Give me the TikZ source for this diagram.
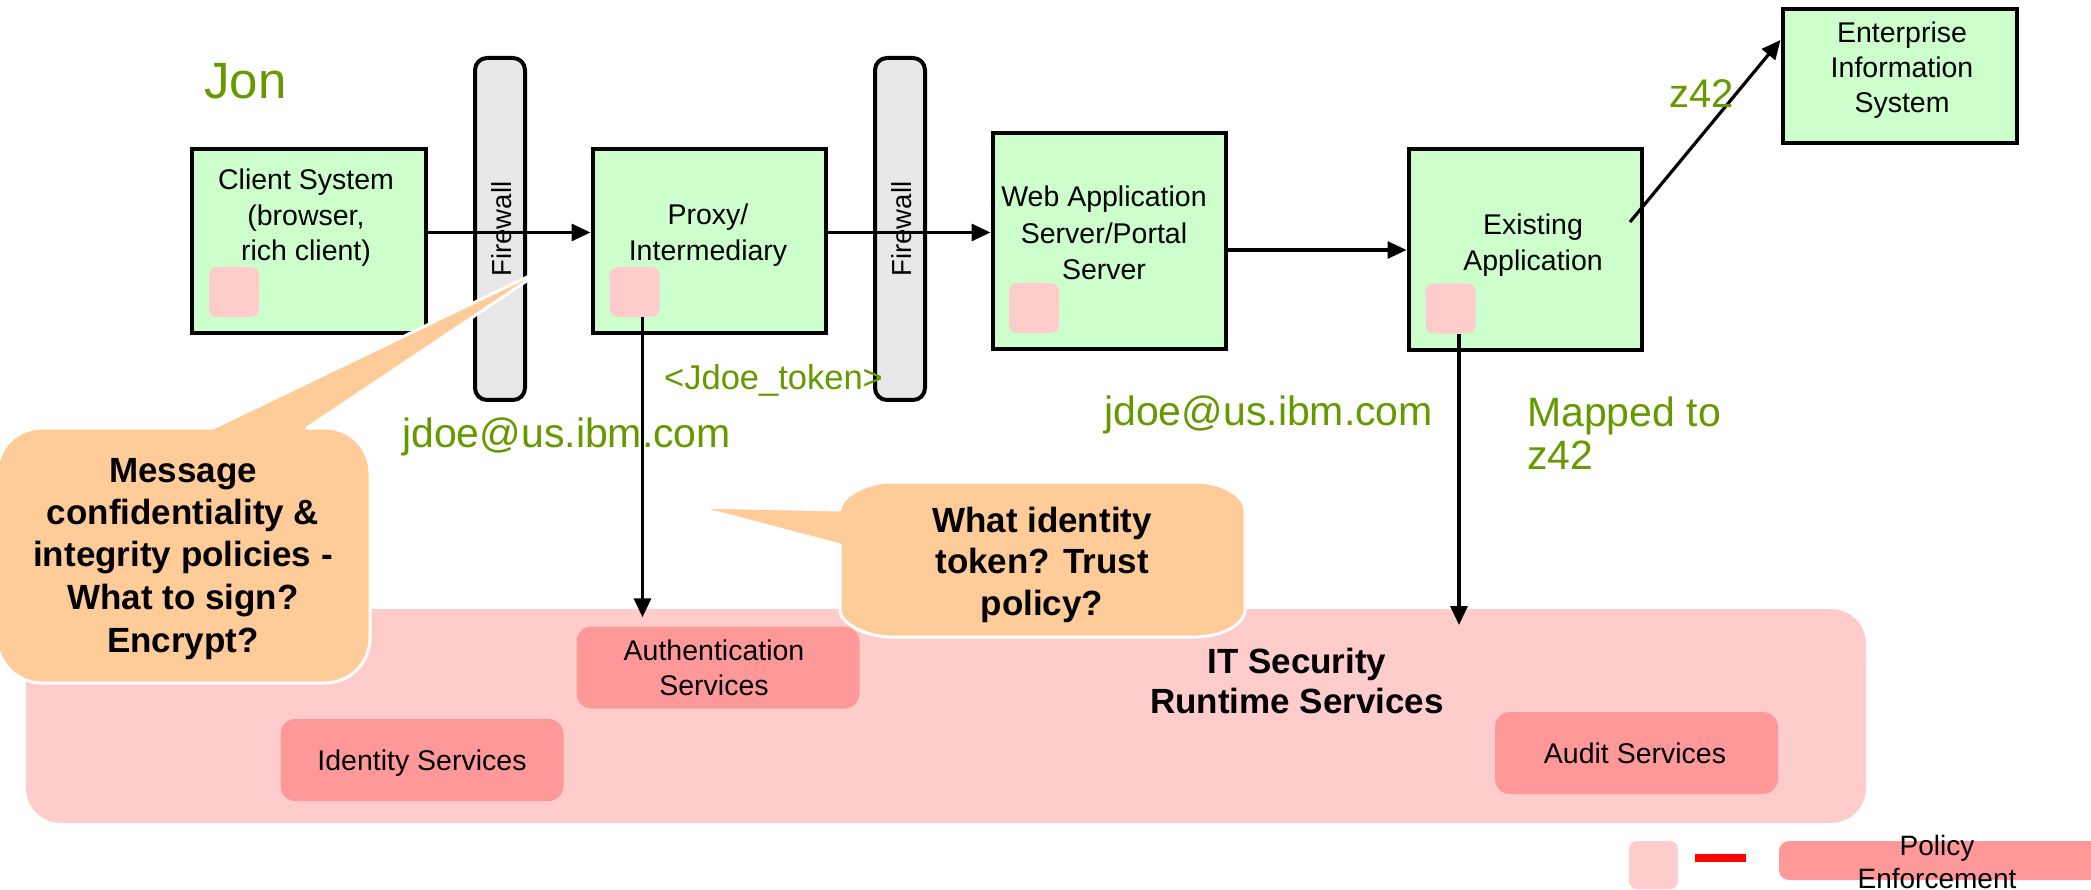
\documentclass[tikz,border=0pt]{standalone}
\usepackage{fontspec}
\setmainfont{Liberation Sans}
\usetikzlibrary{arrows.meta}

\definecolor{boxgreen}{HTML}{CCFFCC}
\definecolor{pep}{HTML}{FFCCCC}
\definecolor{svc}{HTML}{FF9999}
\definecolor{callout}{HTML}{FFCC99}
\definecolor{fwgray}{HTML}{E8E8E8}
\definecolor{idgreen}{HTML}{669900}

\newcommand{\fs}[2]{\fontsize{#1}{#2}\selectfont}
\newcommand{\stackc}[1]{\begin{tabular}[t]{@{}c@{}}#1\end{tabular}}
\newcommand{\stackl}[1]{\begin{tabular}[t]{@{}l@{}}#1\end{tabular}}

\tikzset{
  sysbox/.style={draw=black, line width=4pt, fill=boxgreen, inner sep=0pt},
  pepbox/.style={fill=pep, rounded corners=8pt, inner sep=0pt,
                 minimum width=50pt, minimum height=50pt},
  svcbox/.style={fill=svc, rounded corners=15pt, inner sep=0pt,
                 minimum width=283pt, minimum height=82pt},
  fwall/.style={draw=black, line width=4pt, fill=fwgray, rounded corners=12pt,
                inner sep=0pt, minimum width=50pt, minimum height=342pt},
  lbl/.style={anchor=base, inner sep=0pt, font=\fs{28.5}{35.5}},
  idtext/.style={anchor=base west, inner sep=0pt, text=idgreen, font=\fs{41}{43}},
  flow/.style={line width=3.2pt, -{Triangle[length=19pt,width=17pt]}},
  bubble/.style={fill=callout, draw=white, line width=3pt, line join=round},
  qtext/.style={anchor=base, inner sep=0pt, font=\bfseries\fs{35}{42.5}},
}

\begin{document}
\begin{tikzpicture}[x=1pt,y=-1pt]
\useasboundingbox (0,0) rectangle (2091,890);

% IT security runtime services area
\node[fill=pep, rounded corners=35pt, inner sep=0pt,
      minimum width=1840pt, minimum height=214pt] (sec) at (946,716) {};
\node[svcbox] (auth) at (718,667.5) {};
\node[svcbox] (ident) at (422,760) {};
\node[svcbox] (audit) at (1636.5,753) {};
\node[lbl] (authT) at (714,660) {\stackc{Authentication\\Services}};
\node[lbl] (identT) at (422,770) {Identity Services};
\node[lbl] (auditT) at (1635,763) {Audit Services};
\node[anchor=base, inner sep=0pt, font=\bfseries\fs{35}{40}] (secT) at (1297,673)
     {\stackc{IT Security\\Runtime Services}};

% systems
\node[sysbox, minimum width=234pt, minimum height=184pt] (client) at (308.5,241.5) {};
\node[sysbox, minimum width=233pt, minimum height=184pt] (proxy) at (709,241.5) {};
\node[sysbox, minimum width=233pt, minimum height=216pt] (web) at (1109,241.5) {};
\node[sysbox, minimum width=233pt, minimum height=201pt] (exist) at (1525,250) {};
\node[sysbox, minimum width=234pt, minimum height=134pt] (eis) at (1899.5,76.5) {};

% policy enforcement points
\node[pepbox] (cpep) at (234,292) {};
\node[pepbox] (ppep) at (634.5,292) {};
\node[pepbox] (wpep) at (1034,308) {};
\node[pepbox] (epep) at (1450.5,308.5) {};

\node[lbl] (clientT) at (306,190) {\stackc{Client System\\(browser,\\rich client)}};
\node[lbl] (proxyT) at (708,225) {\stackc{Proxy/\\Intermediary}};
\node[lbl, font=\fs{28.5}{36.5}] (webT) at (1104,207) {\stackc{Web Application\\Server/Portal\\Server}};
\node[lbl, font=\fs{28.5}{36}] (existT) at (1533,235) {\stackc{Existing\\Application}};
\node[lbl, font=\fs{28.5}{35}] (eisT) at (1902,43) {\stackc{Enterprise\\Information\\System}};

% firewalls
\node[fwall] (fw1) at (500,229) {};
\node[fwall] (fw2) at (900,229) {};
\node[rotate=90, inner sep=0pt, font=\fs{27.5}{30}] (fw1T) at (502,229) {Firewall};
\node[rotate=90, inner sep=0pt, font=\fs{27.5}{30}] (fw2T) at (902,229) {Firewall};

% message flow
\coordinate (diagStart) at (1630,222);
\coordinate (secIn) at (1459,625);
\draw[flow] ([yshift=9pt]client.east) -- ([yshift=9pt]proxy.west);
\draw[flow] ([yshift=9pt]proxy.east) -- ([yshift=9pt]web.west);
\draw[flow] (web.east |- exist.west) -- (exist.west);
\draw[flow] (diagStart) -- ([yshift=36.5pt]eis.west);
\draw[flow, shorten >=9pt] ([xshift=8pt]ppep.south) -- ([xshift=8pt]ppep.south |- auth.north);
\draw[flow] ([xshift=8.5pt]epep.south) -- (secIn);

% identity labels
\node[idtext, font=\fs{51}{52}] (jon) at (204,99) {Jon};
\node[idtext] (id1) at (402,447) {jdoe@us.ibm.com};
\node[idtext, font=\fs{34.5}{36}] (tok) at (664,390) {<Jdoe\_token>};
\node[idtext] (id2) at (1104,425) {jdoe@us.ibm.com};
\node[idtext, font=\fs{40}{43}] (z42) at (1669,108) {z42};
\node[idtext] (mapped) at (1527,427) {\stackl{Mapped to\\z42}};

% callouts
\path[bubble] (42,428) -- (213,428) -- (546.5,267.7) -- (307,428) -- (325,428)
  .. controls (349.9,428) and (370,448.1) .. (370,473) -- (370,638)
  .. controls (370,662.9) and (349.9,683) .. (325,683) -- (42,683)
  .. controls (17.1,683) and (-3,662.9) .. (-3,638) -- (-3,473)
  .. controls (-3,448.1) and (17.1,428) .. (42,428) -- cycle;
\node[qtext] (q1) at (183,482)
  {\stackc{Message\\confidentiality \&\\integrity policies -\\What to sign?\\Encrypt?}};

\path[bubble] (696,507) -- (840,510)
  .. controls (840,496.2) and (867.4,482) .. (890,482) -- (1195,482)
  .. controls (1222.6,482) and (1245,496.2) .. (1245,510) -- (1245,610)
  .. controls (1245,623.8) and (1222.6,637) .. (1195,637) -- (890,637)
  .. controls (867.4,637) and (840,623.8) .. (840,610) -- (840,545) -- cycle;
\node[qtext, font=\bfseries\fs{35}{41.5}] (q2) at (1042,532)
  {\stackc{What identity\\token? Trust\\policy?}};

% legend
\node[pepbox, minimum width=49pt, minimum height=48pt] (legPep) at (1653.5,865) {};
\coordinate (legA) at (1695,857.5);
\coordinate (legB) at (1746,857.5);
\draw[red, line width=8pt] (legA) -- (legB);
\node[fill=svc, rounded corners=10pt, inner sep=0pt,
      minimum width=330pt, minimum height=39pt] (legBar) at (1944,860.5) {};
\node[anchor=base, inner sep=0pt, font=\fs{28}{33}] (legT) at (1937,855)
  {\stackc{Policy\\Enforcement}};
\end{tikzpicture}
\end{document}
